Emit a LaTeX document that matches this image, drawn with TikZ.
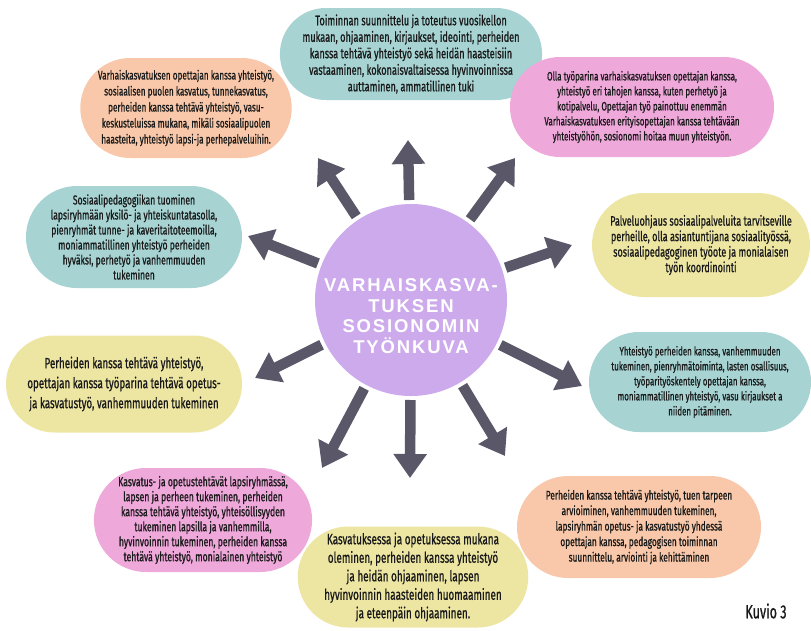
\documentclass[tikz,border=0pt]{standalone}
\usepackage{fontspec}
\setmainfont{Fira Sans}[FakeStretch=0.66, FakeBold=0.8]
\newfontfamily\titlefont{Liberation Sans}[LetterSpace=10]
\usetikzlibrary{arrows.meta,shapes.misc,calc}
\definecolor{bteal}{RGB}{167,211,211}
\definecolor{bpeach}{RGB}{249,200,170}
\definecolor{bpink}{RGB}{238,168,218}
\definecolor{byellow}{RGB}{237,230,163}
\definecolor{lav}{RGB}{205,170,236}
\definecolor{agray}{RGB}{90,88,104}
\definecolor{txt}{RGB}{25,25,25}
\tikzset{
  bubble/.style={rounded rectangle, inner sep=0pt, align=center, text=txt},
  fs/.style 2 args={font=\fontsize{#1}{#2}\selectfont},
  arr/.style={draw=agray, line width=10.5pt,
    -{Triangle[width=32pt,length=24pt]}},
}
\begin{document}
\begin{tikzpicture}[x=1pt,y=-1pt]
\useasboundingbox (0,0) rectangle (811,630);
\fill[white] (0,0) rectangle (811,630);

\coordinate (cc) at (411,300);

% arrow tips
\coordinate (t1) at (408,140);
\coordinate (t2) at (318,158);
\coordinate (t3) at (515,158);
\coordinate (t4) at (248,236);
\coordinate (t5) at (572,245);
\coordinate (t6) at (255,378);
\coordinate (t7) at (582,386);
\coordinate (t8) at (322,468);
\coordinate (t9) at (410,478);
\coordinate (t10) at (505,456);
\foreach \t in {t1,t2,t3,t4,t5,t6,t7,t8,t9,t10}
  \draw[arr] ($(cc)!100pt!(\t)$) -- (\t);

% centre
\node[circle, fill=lav, minimum size=192pt, inner sep=0pt] (c) at (cc) {};
\node[text=white, align=center, inner sep=0pt,
  font=\titlefont\bfseries\fontsize{18.5}{20.5}\selectfont]
  (title) at ($(c.center)+(0,16)$) {VARHAISKASVA-\\TUKSEN\\SOSIONOMIN\\TYÖNKUVA};

% bubbles
\node[bubble, fill=bteal, minimum width=218pt, minimum height=92pt, fs={13.9}{16.5}] (b1) at (411,54)
  {Toiminnan suunnittelu ja toteutus vuosikellon\\mukaan, ohjaaminen, kirjaukset, ideointi, perheiden\\kanssa tehtävä yhteistyö sekä heidän haasteisiin\\vastaaminen, kokonaisvaltaisessa hyvinvoinnissa\\auttaminen, ammatillinen tuki};

\node[bubble, fill=bpeach, minimum width=208pt, minimum height=100pt, fs={12.4}{16}] (b2) at (186,108)
  {Varhaiskasvatuksen opettajan kanssa yhteistyö,\\sosiaalisen puolen kasvatus, tunnekasvatus,\\perheiden kanssa tehtävä yhteistyö, vasu-\\keskusteluissa mukana, mikäli sosiaalipuolen\\haasteita, yhteistyö lapsi-ja perhepalveluihin.};

\node[bubble, fill=bpink, minimum width=264pt, minimum height=100pt, fs={12.1}{15}] (b3) at (642,107)
  {Olla työparina varhaiskasvatuksen opettajan kanssa,\\yhteistyö eri tahojen kanssa, kuten perhetyö ja\\kotipalvelu, Opettajan työ painottuu enemmän\\Varhaiskasvatuksen erityisopettajan kanssa tehtävään\\yhteistyöhön, sosionomi hoitaa muun yhteistyön.};

\node[bubble, fill=bteal, minimum width=216pt, minimum height=102pt, fs={13}{15}] (b4) at (134,237)
  {Sosiaalipedagogiikan tuominen\\lapsiryhmään yksilö- ja yhteiskuntatasolla,\\pienryhmät tunne- ja kaveritaitoteemoilla,\\moniammatillinen yhteistyö perheiden\\hyväksi, perhetyö ja vanhemmuuden\\tukeminen};

\node[bubble, fill=byellow, minimum width=218pt, minimum height=104pt, fs={13.7}{15.5}] (b5) at (701,245)
  {Palveluohjaus sosiaalipalveluita tarvitseville\\perheille, olla asiantuntijana sosiaalityössä,\\sosiaalipedagoginen työote ja monialaisen\\työn koordinointi};

\node[bubble, fill=byellow, minimum width=236pt, minimum height=97pt, fs={14.8}{20}] (b6) at (124,384)
  {Perheiden kanssa tehtävä yhteistyö,\\opettajan kanssa työparina tehtävä opetus-\\ja kasvatustyö, vanhemmuuden tukeminen};

\node[bubble, fill=bteal, minimum width=222pt, minimum height=100pt, fs={12}{15}] (b7) at (700,382)
  {Yhteistyö perheiden kanssa, vanhemmuuden\\tukeminen, pienryhmätoiminta, lasten osallisuus,\\työparityöskentely opettajan kanssa,\\moniammatillinen yhteistyö, vasu kirjaukset a\\niiden pitäminen.};

\node[bubble, fill=bpink, minimum width=194pt, minimum height=104pt, fs={13.1}{15}] (b8) at (203,520)
  {Kasvatus- ja opetustehtävät lapsiryhmässä,\\lapsen ja perheen tukeminen, perheiden\\kanssa tehtävä yhteistyö, yhteisöllisyyden\\tukeminen lapsilla ja vanhemmilla,\\hyvinvoinnin tukeminen, perheiden kanssa\\tehtävä yhteistyö, monialainen yhteistyö};

\node[bubble, fill=bpeach, minimum width=244pt, minimum height=102pt, fs={12.6}{15.5}] (b9) at (639,527)
  {Perheiden kanssa tehtävä yhteistyö, tuen tarpeen\\arvioiminen, vanhemmuuden tukeminen,\\lapsiryhmän opetus- ja kasvatustyö yhdessä\\opettajan kanssa, pedagogisen toiminnan\\suunnittelu, arviointi ja kehittäminen};

\node[bubble, fill=byellow, minimum width=216pt, minimum height=101pt, fs={15}{18.5}] (b10) at (413,577)
  {Kasvatuksessa ja opetuksessa mukana\\oleminen, perheiden kanssa yhteistyö\\ja heidän ohjaaminen, lapsen\\hyvinvoinnin haasteiden huomaaminen\\ja eteenpäin ohjaaminen.};

\node[fs={19}{22}, text=txt, inner sep=0pt] (k) at (766,611) {Kuvio 3};
\end{tikzpicture}
\end{document}
